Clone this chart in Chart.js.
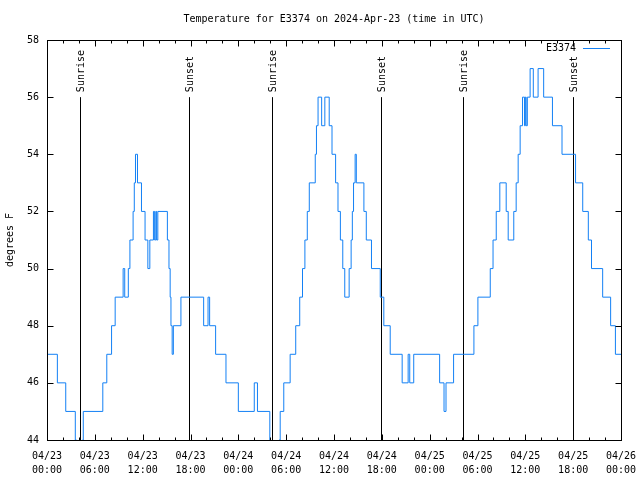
<!DOCTYPE html>
<html>
<head>
<meta charset="utf-8">
<title>Temperature for E3374</title>
<script src="https://cdn.jsdelivr.net/npm/chart.js@4.4.1/dist/chart.umd.min.js"></script>
<style>
  html, body { margin: 0; padding: 0; background: #fff; }
  canvas { display: block; }
</style>
</head>
<body>
<canvas id="chart" width="640" height="480"></canvas>
<script>
var stationName = 'E3374';
var chartTitle = 'Temperature for E3374 on 2024-Apr-23 (time in UTC)';

// hours since 04/23 00:00 UTC where the reading changes, and the reading from then on
var hours = [
    0, 1.3, 2.35, 3.55, 3.7, 4.45, 4.55, 7.0, 7.5, 8.1,
    8.55, 9.55, 9.75, 10.2, 10.4, 10.8, 10.95, 11.1, 11.35, 11.85,
    12.3, 12.65, 12.9, 13.35, 13.5, 13.65, 13.75, 13.9, 15.1, 15.3,
    15.45, 15.55, 15.7, 15.85, 16.8, 19.65, 20.2, 20.4, 21.15, 22.45,
    24.0, 26.0, 26.4, 27.95, 28.1, 29.1, 29.25, 29.7, 30.5, 31.2,
    31.7, 32.05, 32.35, 32.65, 32.9, 33.65, 33.8, 34.0, 34.45, 34.85,
    35.4, 35.75, 36.2, 36.5, 36.8, 37.1, 37.35, 37.9, 38.15, 38.3,
    38.45, 38.65, 38.8, 39.75, 40.05, 40.7, 41.8, 42.25, 43.05, 44.55,
    45.3, 45.5, 46.0, 49.25, 49.8, 50.05, 51.0, 53.55, 54.05, 55.6,
    55.95, 56.35, 56.8, 57.6, 57.85, 58.55, 58.85, 59.1, 59.35, 59.65,
    59.9, 60.0, 60.1, 60.25, 60.6, 61.0, 61.6, 62.3, 63.4, 64.6,
    66.3, 67.2, 67.9, 68.3, 69.7, 70.7, 71.3, 72
];
var tempF = [
    47, 46, 45, 44, 43, 44, 45, 46, 47, 48,
    49, 50, 49, 50, 51, 52, 53, 54, 53, 52,
    51, 50, 51, 52, 51, 52, 51, 52, 51, 50,
    49, 48, 47, 48, 49, 48, 49, 48, 47, 46,
    45, 46, 45, 44, 43, 44, 45, 46, 47, 48,
    49, 50, 51, 52, 53, 54, 55, 56, 55, 56,
    55, 54, 53, 52, 51, 50, 49, 50, 51, 52,
    53, 54, 53, 52, 51, 50, 49, 48, 47, 46,
    47, 46, 47, 46, 45, 46, 47, 48, 49, 50,
    51, 52, 53, 52, 51, 52, 53, 54, 55, 56,
    55, 56, 55, 56, 57, 56, 57, 56, 55, 54,
    53, 52, 51, 50, 49, 48, 47, 47
];

var xTickHours = [0, 6, 12, 18, 24, 30, 36, 42, 48, 54, 60, 66, 72];
var xTickLabels = [
    ['04/23', '00:00'], ['04/23', '06:00'], ['04/23', '12:00'], ['04/23', '18:00'],
    ['04/24', '00:00'], ['04/24', '06:00'], ['04/24', '12:00'], ['04/24', '18:00'],
    ['04/25', '00:00'], ['04/25', '06:00'], ['04/25', '12:00'], ['04/25', '18:00'],
    ['04/26', '00:00']
];
var yTicks = [44, 46, 48, 50, 52, 54, 56, 58];

var sunHours = [4.17, 17.85, 28.25, 41.9, 52.23, 66.0];
var sunLabels = ['Sunrise', 'Sunset', 'Sunrise', 'Sunset', 'Sunrise', 'Sunset'];
var sunLineTop = 56;

var monoFont = '"DejaVu Sans Mono", monospace';
var lineColor = '#1380f5';

var points = hours.map(function (h, i) {
    return { x: h, y: tempF[i] };
});

// frame, inward ticks, sunrise/sunset markers, title and legend
var decorations = {
    id: 'decorations',
    beforeDatasetsDraw: function (chart) {
        var ctx = chart.ctx;
        var xs = chart.scales.x, ys = chart.scales.y;
        ctx.save();
        ctx.strokeStyle = '#000';
        ctx.fillStyle = '#000';
        ctx.lineWidth = 1;
        ctx.font = '10px ' + monoFont;
        var yBottom = ys.getPixelForValue(ys.min);
        var yTop = ys.getPixelForValue(sunLineTop);
        sunHours.forEach(function (h, i) {
            var px = Math.round(xs.getPixelForValue(h)) + 0.5;
            ctx.beginPath();
            ctx.moveTo(px, yBottom);
            ctx.lineTo(px, yTop);
            ctx.stroke();
            ctx.save();
            ctx.translate(px + 1, yTop - 5);
            ctx.rotate(-Math.PI / 2);
            ctx.textAlign = 'left';
            ctx.textBaseline = 'middle';
            ctx.fillText(sunLabels[i], 0, 0);
            ctx.restore();
        });
        ctx.restore();
    },
    afterDraw: function (chart) {
        var ctx = chart.ctx;
        var a = chart.chartArea;
        var xs = chart.scales.x, ys = chart.scales.y;
        var l = Math.round(a.left) + 0.5, r = Math.round(a.right) + 0.5;
        var t = Math.round(a.top) + 0.5, b = Math.round(a.bottom) + 0.5;
        ctx.save();
        ctx.strokeStyle = '#000';
        ctx.lineWidth = 1;
        ctx.strokeRect(l, t, r - l, b - t);

        ctx.beginPath();
        for (var h = xs.min; h <= xs.max; h += 2) {
            var px = Math.round(xs.getPixelForValue(h)) + 0.5;
            var len = (h % 6 === 0) ? 6 : 3;
            ctx.moveTo(px, b); ctx.lineTo(px, b - len);
            ctx.moveTo(px, t); ctx.lineTo(px, t + len);
        }
        yTicks.forEach(function (v) {
            var py = Math.round(ys.getPixelForValue(v)) + 0.5;
            ctx.moveTo(l, py); ctx.lineTo(l + 6, py);
            ctx.moveTo(r, py); ctx.lineTo(r - 6, py);
        });
        ctx.stroke();

        ctx.fillStyle = '#000';
        ctx.font = '10px ' + monoFont;
        ctx.textAlign = 'center';
        ctx.textBaseline = 'middle';
        ctx.fillText(chartTitle, (a.left + a.right) / 2, 19);

        var ds = chart.data.datasets[0];
        ctx.textAlign = 'right';
        ctx.fillText(ds.label, a.right - 45, a.top + 8);
        ctx.strokeStyle = ds.borderColor;
        ctx.beginPath();
        ctx.moveTo(a.right - 38, a.top + 8.5);
        ctx.lineTo(a.right - 11, a.top + 8.5);
        ctx.stroke();
        ctx.restore();
    }
};

var ctx = document.getElementById('chart');

var chart = new Chart(ctx, {
    type: 'line',
    data: {
        datasets: [
            {
                label: stationName,
                data: points,
                borderColor: lineColor,
                borderWidth: 1,
                pointRadius: 0,
                stepped: true,
                fill: false
            }
        ]
    },
    options: {
        responsive: false,
        animation: false,
        layout: {
            padding: { top: 40, right: 19, left: 0, bottom: 0 }
        },
        plugins: {
            legend: { display: false },
            title: { display: false },
            tooltip: { enabled: false }
        },
        scales: {
            x: {
                type: 'linear',
                min: 0,
                max: 72,
                grid: { display: false, drawTicks: false },
                border: { display: false },
                afterBuildTicks: function (scale) {
                    scale.ticks = xTickHours.map(function (v) { return { value: v }; });
                },
                afterFit: function (scale) {
                    scale.height = 40;
                    scale.paddingLeft = 0;
                    scale.paddingRight = 0;
                },
                ticks: {
                    autoSkip: false,
                    maxRotation: 0,
                    padding: 9,
                    color: '#000',
                    font: { family: monoFont, size: 10, lineHeight: 1.4 },
                    callback: function (value, index) {
                        return xTickLabels[index];
                    }
                }
            },
            y: {
                min: 44,
                max: 58,
                grid: { display: false, drawTicks: false },
                border: { display: false },
                afterBuildTicks: function (scale) {
                    scale.ticks = yTicks.map(function (v) { return { value: v }; });
                },
                afterFit: function (scale) {
                    scale.width = 47;
                    scale.paddingTop = 0;
                    scale.paddingBottom = 0;
                },
                ticks: {
                    padding: 8,
                    color: '#000',
                    font: { family: monoFont, size: 10 }
                },
                title: {
                    display: true,
                    text: 'degrees F',
                    color: '#000',
                    font: { family: monoFont, size: 10 },
                    padding: { top: 4, bottom: 0 }
                }
            }
        }
    },
    plugins: [decorations]
});
</script>
</body>
</html>
